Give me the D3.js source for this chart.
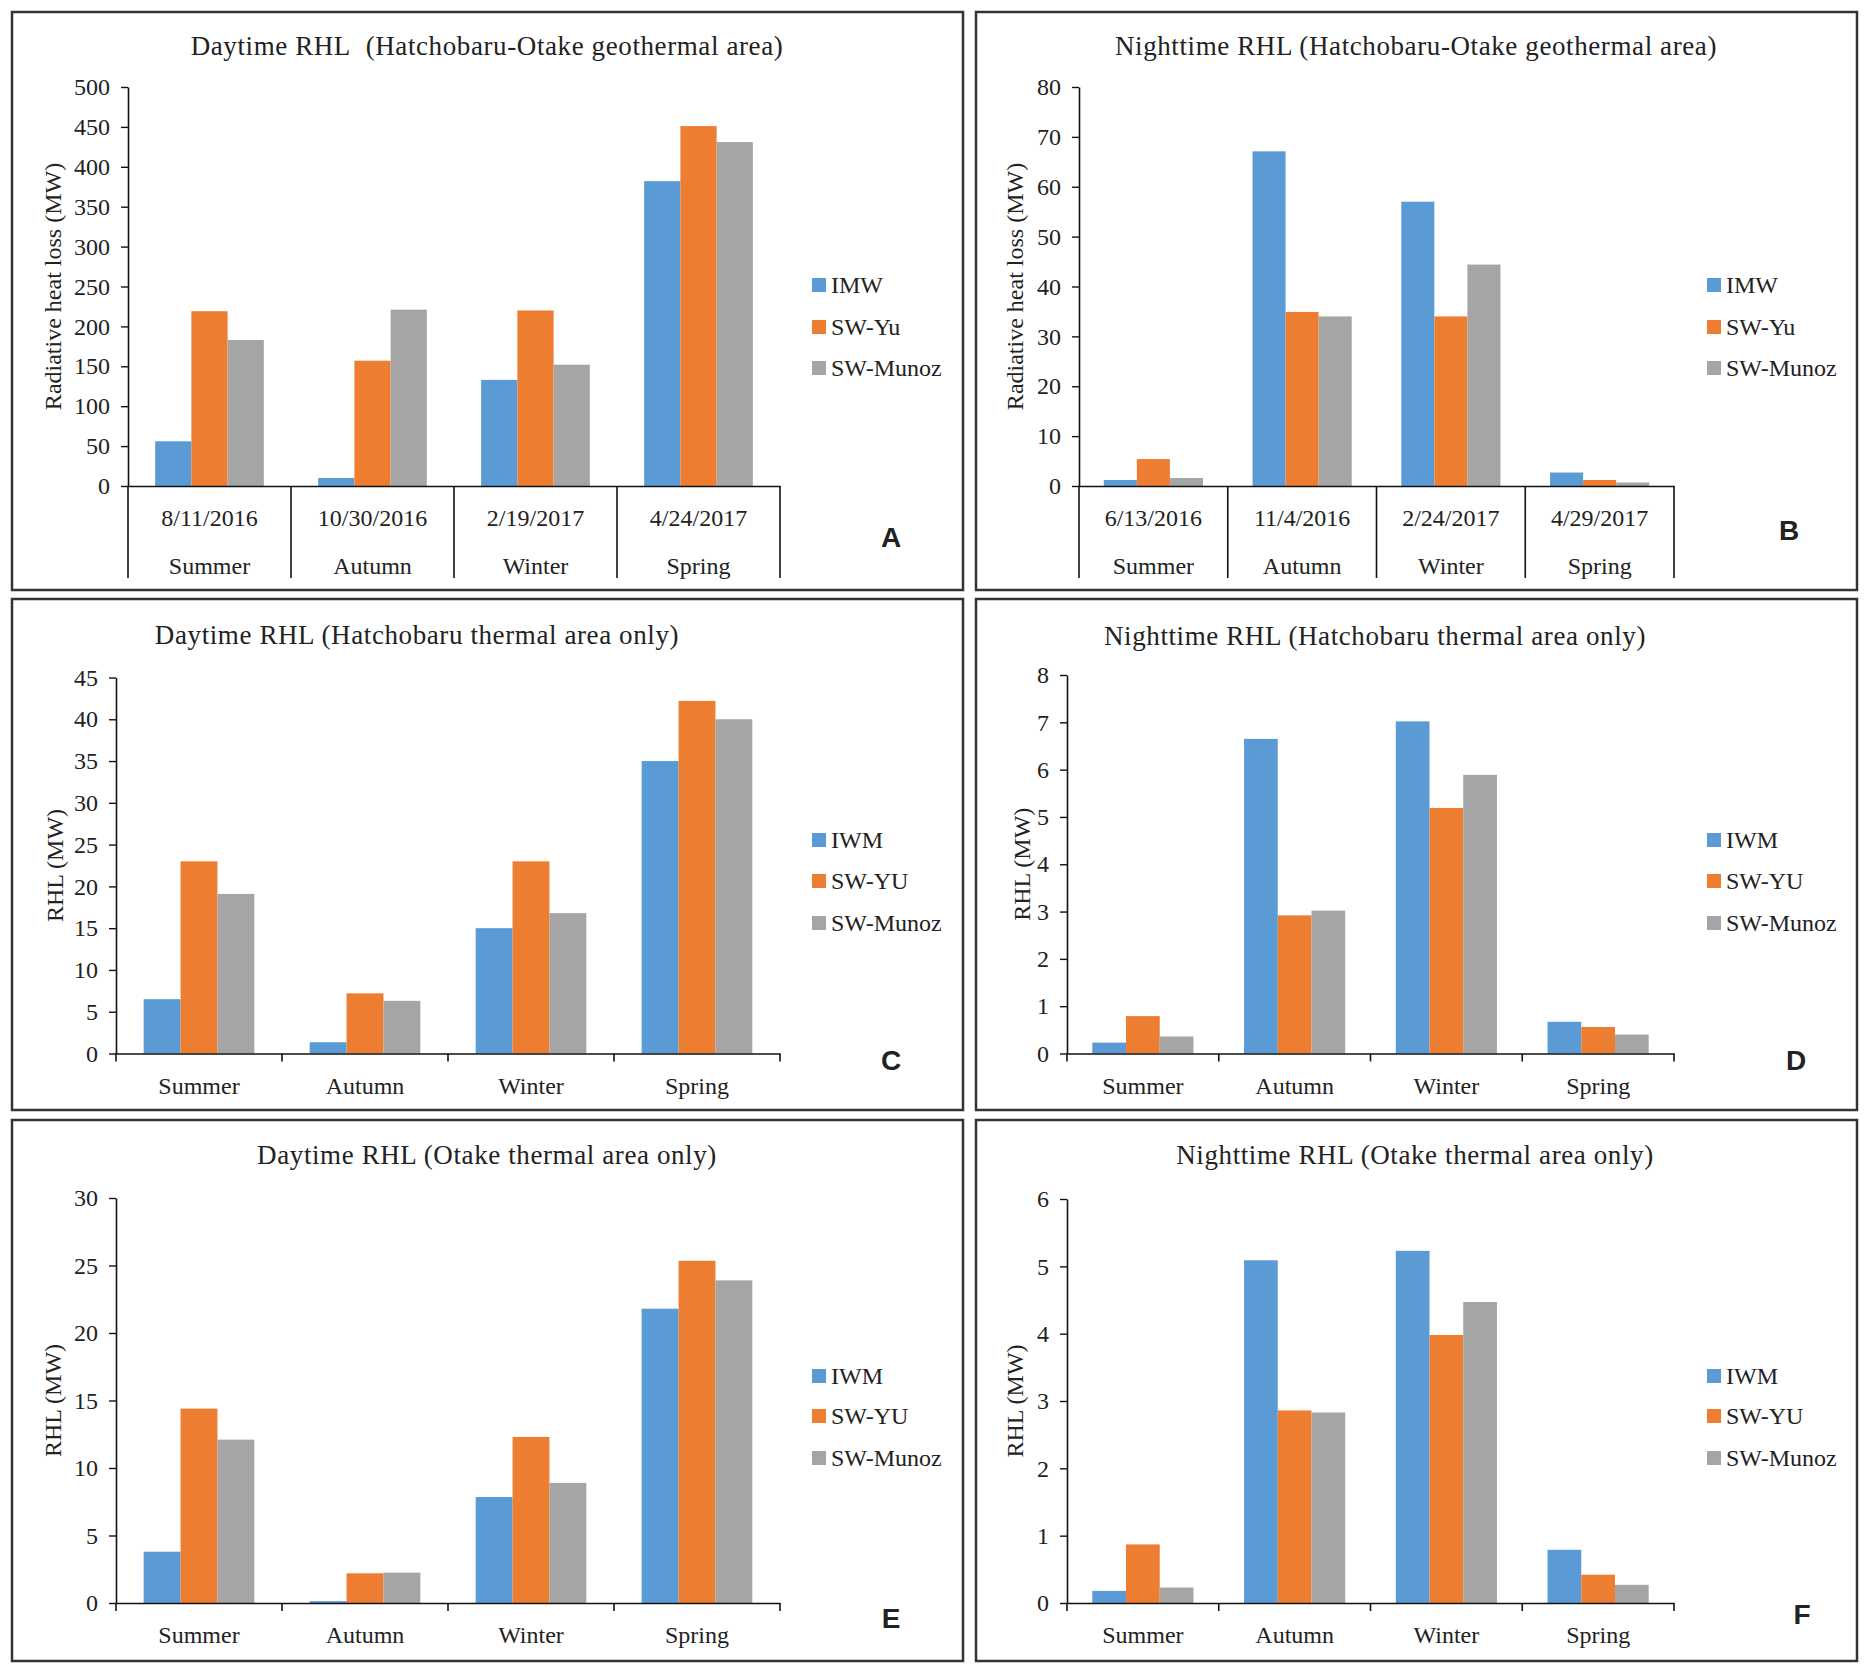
<!DOCTYPE html>
<html>
<head>
<meta charset="utf-8">
<script src="https://cdn.jsdelivr.net/npm/d3@7"></script>
<style>
  body { margin: 0; background: #fff; }
  text { font-family: 'Liberation Serif', serif; fill: #222; }
</style>
</head>
<body>
<div class="canvas"></div>
<script>
// categories and labels
const seasons = ['Summer', 'Autumn', 'Winter', 'Spring'];
const datesDay = ['8/11/2016', '10/30/2016', '2/19/2017', '4/24/2017'];
const datesNight = ['6/13/2016', '11/4/2016', '2/24/2017', '4/29/2017'];
const seriesTop = ['IMW', 'SW-Yu', 'SW-Munoz'];
const seriesArea = ['IWM', 'SW-YU', 'SW-Munoz'];

// values, one row per series (IMW/IWM, SW-Yu, SW-Munoz), one column per season
const dayBoth = [[56, 10, 133, 382], [219, 157, 220, 451], [183, 221, 152, 431]];
const nightBoth = [[1.2, 67.1, 57.0, 2.7], [5.4, 34.9, 34.0, 1.2], [1.6, 34.0, 44.4, 0.7]];
const dayHatch = [[6.5, 1.35, 15.0, 35.0], [23.0, 7.2, 23.0, 42.2], [19.1, 6.3, 16.8, 40.0]];
const nightHatch = [[0.23, 6.65, 7.02, 0.67], [0.79, 2.92, 5.19, 0.56], [0.36, 3.02, 5.89, 0.40]];
const dayOtake = [[3.8, 0.14, 7.85, 21.8], [14.4, 2.2, 12.3, 25.35], [12.1, 2.25, 8.9, 23.9]];
const nightOtake = [[0.18, 5.09, 5.23, 0.79], [0.87, 2.86, 3.98, 0.42], [0.23, 2.83, 4.47, 0.27]];

const colors = ['#5B9BD5', '#ED7D31', '#A5A5A5'];

// panel layout
const panels = [
  { letter: 'A', frame: [12, 12, 951, 578], plot: [128, 780, 87, 486], max: 500, step: 50,
    title: 'Daytime RHL\u00a0\u00a0(Hatchobaru-Otake geothermal area)', tx: 487, ty: 46,
    ylab: 'Radiative heat loss (MW)', ylx: 53, values: dayBoth, series: seriesTop, dates: datesDay,
    lx: 812, ly: [285, 327, 368], pos: [891, 537] },
  { letter: 'B', frame: [976, 12, 881, 578], plot: [1079, 1674, 87, 486], max: 80, step: 10,
    title: 'Nighttime RHL (Hatchobaru-Otake geothermal area)', tx: 1416, ty: 46,
    ylab: 'Radiative heat loss (MW)', ylx: 1015, values: nightBoth, series: seriesTop, dates: datesNight,
    lx: 1707, ly: [285, 327, 368], pos: [1789, 530] },
  { letter: 'C', frame: [12, 599, 951, 511], plot: [116, 780, 677.5, 1053.5], max: 45, step: 5,
    title: 'Daytime RHL (Hatchobaru thermal area only)', tx: 417, ty: 635,
    ylab: 'RHL (MW)', ylx: 55, values: dayHatch, series: seriesArea,
    lx: 812, ly: [840, 881, 923], pos: [891, 1060] },
  { letter: 'D', frame: [976, 599, 881, 511], plot: [1067, 1674, 675, 1053.5], max: 8, step: 1,
    title: 'Nighttime RHL (Hatchobaru thermal area only)', tx: 1375, ty: 636,
    ylab: 'RHL (MW)', ylx: 1022, values: nightHatch, series: seriesArea,
    lx: 1707, ly: [840, 881, 923], pos: [1796, 1060] },
  { letter: 'E', frame: [12, 1120, 951, 541], plot: [116, 780, 1198, 1603], max: 30, step: 5,
    title: 'Daytime RHL (Otake thermal area only)', tx: 487, ty: 1155,
    ylab: 'RHL (MW)', ylx: 53, values: dayOtake, series: seriesArea,
    lx: 812, ly: [1376, 1416, 1458], pos: [891, 1618] },
  { letter: 'F', frame: [976, 1120, 881, 541], plot: [1067, 1674, 1199, 1603], max: 6, step: 1,
    title: 'Nighttime RHL (Otake thermal area only)', tx: 1415, ty: 1155,
    ylab: 'RHL (MW)', ylx: 1015, values: nightOtake, series: seriesArea,
    lx: 1707, ly: [1376, 1416, 1458], pos: [1802, 1614] }
];

// create svg
const svg = d3.select('.canvas')
  .append('svg')
    .attr('width', 1871)
    .attr('height', 1680);

svg.append('rect')
  .attr('width', 1871).attr('height', 1680).attr('fill', '#fff');

panels.forEach(p => {
  const g = svg.append('g');
  const [x0, x1, yTop, yBot] = p.plot;

  // panel frame
  g.append('rect')
    .attr('x', p.frame[0]).attr('y', p.frame[1])
    .attr('width', p.frame[2]).attr('height', p.frame[3])
    .attr('fill', 'none').attr('stroke', '#333').attr('stroke-width', 2.5);

  // scales
  const x = d3.scaleBand().domain(seasons).range([x0, x1])
    .paddingInner(1 / 3).paddingOuter(1 / 6);
  const xs = d3.scaleBand().domain([0, 1, 2]).range([0, x.bandwidth()]);
  const y = d3.scaleLinear().domain([0, p.max]).range([yBot, yTop]);

  // bars
  p.values.forEach((row, si) => {
    g.selectAll(null)
      .data(row)
      .enter()
      .append('rect')
        .attr('x', (d, i) => x(seasons[i]) + xs(si))
        .attr('y', d => y(d))
        .attr('width', xs.bandwidth())
        .attr('height', d => yBot - y(d))
        .attr('fill', colors[si]);
  });

  // y axis
  const yAxis = d3.axisLeft(y)
    .tickValues(d3.range(0, p.max + p.step / 2, p.step))
    .tickFormat(d3.format('d'))
    .tickSize(7).tickSizeOuter(0).tickPadding(11);
  const ya = g.append('g')
    .attr('transform', `translate(${x0},0)`)
    .call(yAxis);
  ya.select('.domain').attr('stroke', '#111').attr('stroke-width', 1.6);
  ya.selectAll('.tick line').attr('stroke', '#111').attr('stroke-width', 1.4);
  ya.selectAll('.tick text')
    .attr('font-family', 'Liberation Serif').attr('font-size', 24).attr('fill', '#222');

  // x axis
  const step = x.step();
  const bounds = d3.range(5).map(i => x0 + i * step);
  const xAxis = d3.axisBottom(x).tickSize(0).tickSizeOuter(0).tickPadding(0);
  const xa = g.append('g')
    .attr('transform', `translate(0,${yBot})`)
    .call(xAxis);
  xa.select('.domain').attr('stroke', '#111').attr('stroke-width', 1.6);
  xa.selectAll('.tick text')
    .attr('font-family', 'Liberation Serif').attr('font-size', 24).attr('fill', '#222')
    .attr('dy', null);

  if (p.dates) {
    // two level category axis: date on top, season below
    xa.selectAll('.tick text').attr('y', 80).attr('dominant-baseline', 'central');
    xa.selectAll('.tick').append('text')
      .attr('y', 32)
      .attr('dominant-baseline', 'central')
      .attr('text-anchor', 'middle')
      .attr('font-family', 'Liberation Serif').attr('font-size', 24).attr('fill', '#222')
      .text((d, i) => p.dates[i]);
    g.selectAll(null)
      .data(bounds)
      .enter()
      .append('line')
        .attr('x1', d => d).attr('x2', d => d)
        .attr('y1', yBot).attr('y2', yBot + 92)
        .attr('stroke', '#111').attr('stroke-width', 1.6);
  } else {
    xa.selectAll('.tick text').attr('y', 32).attr('dominant-baseline', 'central');
    g.selectAll(null)
      .data(bounds)
      .enter()
      .append('line')
        .attr('x1', d => d).attr('x2', d => d)
        .attr('y1', yBot).attr('y2', yBot + 8)
        .attr('stroke', '#111').attr('stroke-width', 1.6);
  }

  // title
  g.append('text')
    .attr('x', p.tx).attr('y', p.ty)
    .attr('text-anchor', 'middle').attr('dominant-baseline', 'central')
    .attr('font-size', 27)
    .attr('letter-spacing', 0.6)
    .text(p.title);

  // y axis label
  g.append('text')
    .attr('transform', `translate(${p.ylx},${(yTop + yBot) / 2}) rotate(-90)`)
    .attr('text-anchor', 'middle').attr('dominant-baseline', 'central')
    .attr('font-size', 24)
    .text(p.ylab);

  // legend
  const leg = g.selectAll(null)
    .data(p.series)
    .enter()
    .append('g')
      .attr('transform', (d, i) => `translate(${p.lx},${p.ly[i]})`);
  leg.append('rect')
    .attr('x', 0).attr('y', -7).attr('width', 14).attr('height', 14)
    .attr('fill', (d, i) => colors[i]);
  leg.append('text')
    .attr('x', 19).attr('y', 0)
    .attr('dominant-baseline', 'central')
    .attr('font-size', 24)
    .text(d => d);

  // panel letter
  g.append('text')
    .attr('x', p.pos[0]).attr('y', p.pos[1])
    .attr('text-anchor', 'middle').attr('dominant-baseline', 'central')
    .style('font-family', "'Liberation Sans', sans-serif")
    .attr('font-weight', 'bold').attr('font-size', 28)
    .text(p.letter);
});
</script>
</body>
</html>
